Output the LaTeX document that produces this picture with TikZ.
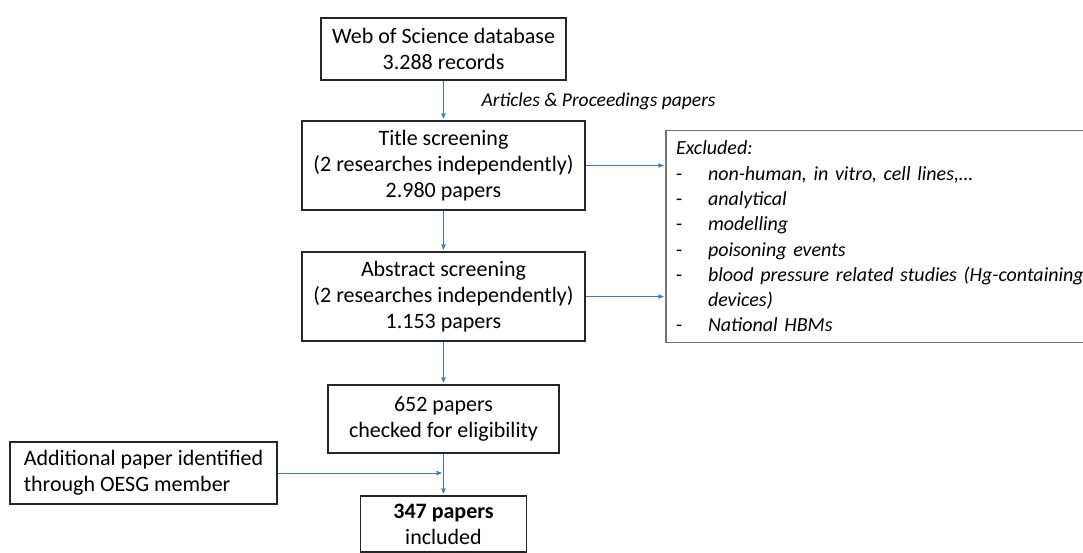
\documentclass[tikz,border=0pt]{standalone}
\usepackage{fontspec}
\setmainfont{Carlito}
\usepackage{tikz}
\usetikzlibrary{arrows,positioning}
\definecolor{flowblue}{RGB}{68,114,196}

\begin{document}
\begin{tikzpicture}[x=1pt,y=1pt,>=stealth',shorten >=2pt,node distance=100pt,on grid,font=\fontsize{22}{26}\selectfont]
\tikzstyle{box} = [rectangle,draw=black!85,line width=1.1pt,align=center,inner sep=0pt]
\tikzstyle{exbox} = [rectangle,draw=black!55,line width=1.1pt,align=left,inner sep=10pt,text width=450pt,minimum height=211pt,font=\fontsize{20}{25.3}\selectfont]
\useasboundingbox (0,0) rectangle (1083,-552);
\clip (0,0) rectangle (1083,-552);
    \node[box,minimum width=245pt,minimum height=62pt] (wos) at (443.5,-49) {Web of Science database\\3.288 records};
    \node[box,minimum width=283pt,minimum height=89pt] (title) [below=116.5pt of wos] {Title screening\\(2 researches independently)\\2.980 papers};
    \node[box,minimum width=283pt,minimum height=89pt] (abstr) [below=131pt of title] {Abstract screening\\(2 researches independently)\\1.153 papers};
    \node[box,minimum width=231pt,minimum height=68pt] (elig) [below=122.5pt of abstr] {652 papers\\checked for eligibility};
    \node[box,minimum width=166pt,minimum height=56pt] (incl) [below=105pt of elig] {\textbf{347 papers}\\included};
    \node[box,align=left,minimum width=267pt,minimum height=62pt] (add) [below left=54pt and 300pt of elig] {Additional paper identified\\through OESG member};
    \node[exbox] (excl) [below right=71pt and 457.5pt of title] {\textit{Excluded:}\\
        \makebox[32pt][l]{-}\textit{non-human, in vitro, cell lines,…}\\
        \makebox[32pt][l]{-}\textit{analytical}\\
        \makebox[32pt][l]{-}\textit{modelling}\\
        \makebox[32pt][l]{-}\textit{poisoning events}\\
        \makebox[32pt][l]{-}\textit{blood pressure related studies (Hg-containing}\\
        \hspace*{32pt}\textit{devices)}\\
        \makebox[32pt][l]{-}\textit{National HBMs}};
    \node[anchor=west,font=\fontsize{19.5}{22}\selectfont\itshape] (artlbl) at ([xshift=34.5pt,yshift=-21pt]wos.south) {Articles \& Proceedings papers};

    \tikzset{flow/.style={->,draw=flowblue,line width=0.9pt}}
    \draw[flow] (wos) -- (title);
    \draw[flow] (title) -- (abstr);
    \draw[flow] (abstr) -- (elig);
    \draw[flow] (elig) -- (incl);
    \draw[flow] (title.east) -- (title.east -| excl.west);
    \draw[flow] (abstr.east) -- (abstr.east -| excl.west);
    \draw[flow] (add.east) -- (add.east -| elig.south);
\end{tikzpicture}
\end{document}
